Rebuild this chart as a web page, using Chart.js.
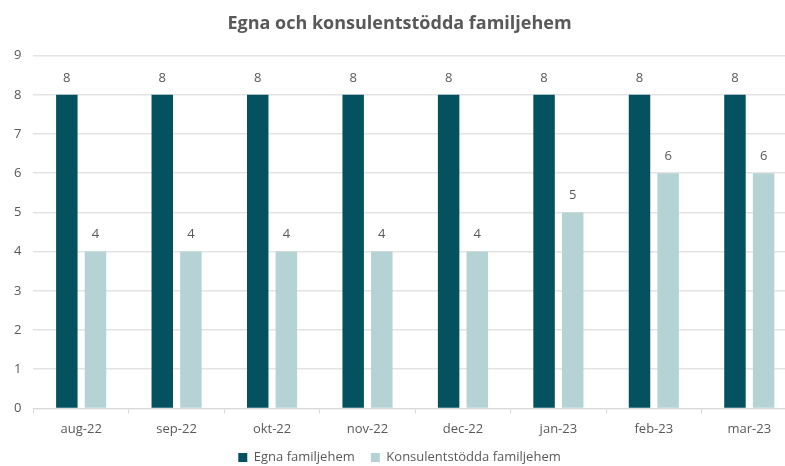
<!DOCTYPE html>
<html lang="sv">
<head>
<meta charset="UTF-8">
<title>Egna och konsulentstödda familjehem</title>
<script src="https://cdn.jsdelivr.net/npm/chart.js"></script>
<style>
  html, body { margin: 0; padding: 0; background: #fff; overflow: hidden; }
  #wrap { width: 820px; height: 466px; }
</style>
</head>
<body>
<div id="wrap"><canvas id="chart"></canvas></div>
<script>
const months = ['aug-22', 'sep-22', 'okt-22', 'nov-22', 'dec-22', 'jan-23', 'feb-23', 'mar-23'];
const egna = [8, 8, 8, 8, 8, 8, 8, 8];
const konsulent = [4, 4, 4, 4, 4, 5, 6, 6];
const yTicks = [0, 1, 2, 3, 4, 5, 6, 7, 8, 9];

const gray = '#595959';
const font = "'Open Sans', 'Liberation Sans', sans-serif";

// values above each bar
const barLabels = {
  id: 'barLabels',
  afterDatasetsDraw(chart) {
    const ctx = chart.ctx;
    ctx.save();
    ctx.fillStyle = gray;
    ctx.font = '13px ' + font;
    ctx.textAlign = 'center';
    ctx.textBaseline = 'middle';
    chart.data.datasets.forEach((ds, i) => {
      chart.getDatasetMeta(i).data.forEach((bar, j) => {
        ctx.fillText(ds.data[j], bar.x, bar.y - 17);
      });
    });
    ctx.restore();
  }
};

new Chart(document.getElementById('chart'), {
  type: 'bar',
  data: {
    labels: months,
    datasets: [
      { label: 'Egna familjehem', data: egna, backgroundColor: '#04525F',
        categoryPercentage: 0.6, barPercentage: 0.75 },
      { label: 'Konsulentstödda familjehem', data: konsulent, backgroundColor: '#B5D2D5',
        categoryPercentage: 0.6, barPercentage: 0.75 }
    ]
  },
  options: {
    responsive: true,
    maintainAspectRatio: false,
    animation: false,
    layout: { padding: { left: 2, right: 23, top: 2, bottom: -8 } },
    plugins: {
      title: {
        display: true,
        text: 'Egna och konsulentstödda familjehem',
        color: gray,
        font: { family: font, size: 18, weight: 'bold' },
        padding: { top: 11, bottom: 21 }
      },
      legend: {
        position: 'bottom',
        labels: {
          color: gray,
          font: { family: font, size: 13 },
          boxWidth: 9, boxHeight: 9,
          padding: 6,
          generateLabels(chart) {
            const items = Chart.defaults.plugins.legend.labels.generateLabels(chart);
            items[0].text += '   ';
            return items;
          }
        }
      },
      tooltip: { enabled: false }
    },
    scales: {
      x: {
        grid: { display: true, drawOnChartArea: false, offset: true, color: '#d9d9d9', tickLength: 5 },
        border: { color: '#d9d9d9' },
        ticks: { color: gray, font: { family: font, size: 13 }, padding: 8 }
      },
      y: {
        min: 0, max: 9,
        afterBuildTicks(axis) { axis.ticks = yTicks.map(v => ({ value: v })); },
        grid: { color: '#e3e3e3', drawTicks: false, lineWidth: 1.5 },
        border: { display: false },
        ticks: { color: gray, font: { family: font, size: 13 }, padding: 12 }
      }
    }
  },
  plugins: [barLabels]
});
</script>
</body>
</html>
